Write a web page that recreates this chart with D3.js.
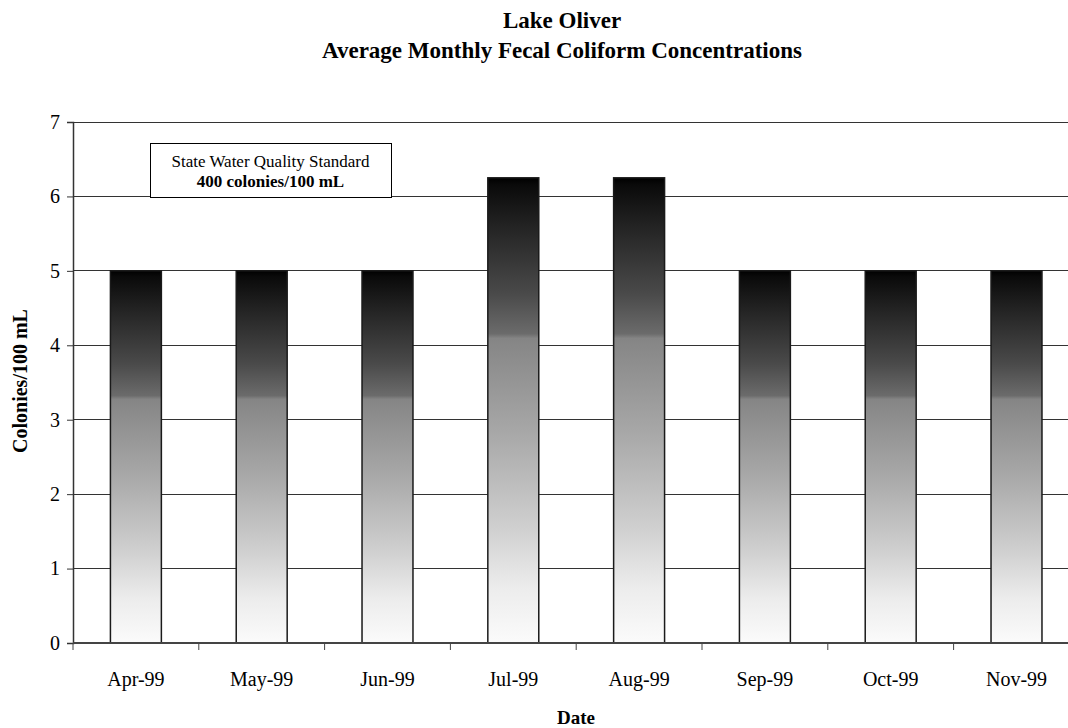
<!DOCTYPE html>
<html><head><meta charset="utf-8">
<script src="https://cdn.jsdelivr.net/npm/d3@7"></script>
<style>
body{margin:0;background:#fff;}
</style></head>
<body><svg id="c" width="1068" height="728"></svg>
<script>
const categories = ["Apr-99","May-99","Jun-99","Jul-99","Aug-99","Sep-99","Oct-99","Nov-99"];
const values = [5,5,5,6.25,6.25,5,5,5];
const yTicks = [0,1,2,3,4,5,6,7];
const titleLines = ["Lake Oliver","Average Monthly Fecal Coliform Concentrations"];
const legendLines = ["State Water Quality Standard","400 colonies/100 mL"];

const FONT = "'Liberation Serif','Times New Roman',Times,serif";
const svg = d3.select("#c").attr("font-family", FONT);
const mLeft = 73, mTop = 122, mBottom = 643, step = 125.8;
const x = d3.scaleBand().domain(categories).range([mLeft, mLeft + step*categories.length]).paddingInner(0.595).paddingOuter(0.2975);
const xb = d3.scaleBand().domain(categories).range([mLeft, mLeft + step*categories.length]).padding(0);
const y = d3.scaleLinear().domain([0,7]).range([mBottom, mTop]);

const defs = svg.append("defs");
const g = defs.append("linearGradient").attr("id","grad").attr("x1",0).attr("y1",0).attr("x2",0).attr("y2",1);
[[0,"#000"],[0.015,"#0a0a0a"],[0.1,"#222"],[0.25,"#4a4a4a"],[0.335,"#6b6b6b"],[0.345,"#858585"],[0.55,"#a8a8a8"],[0.75,"#cfcfcf"],[0.88,"#ececec"],[1,"#fbfbfb"]]
 .forEach(([o,c])=>g.append("stop").attr("offset",o).attr("stop-color",c));

// gridlines
svg.append("g").selectAll("line").data(yTicks.filter(d=>d>0)).join("line")
  .attr("x1",mLeft).attr("x2",1068).attr("y1",d=>y(d)).attr("y2",d=>y(d))
  .attr("stroke","#333").attr("stroke-width",1).attr("shape-rendering","crispEdges");

// bars
svg.append("g").selectAll("rect").data(values).join("rect")
  .attr("x",(d,i)=>x(categories[i])).attr("width",x.bandwidth())
  .attr("y",d=>y(d)).attr("height",d=>y(0)-y(d))
  .attr("fill","url(#grad)").attr("stroke","#1a1a1a").attr("stroke-width",1.5);

// y axis
const ya = svg.append("g").attr("transform",`translate(${mLeft},0)`)
  .call(d3.axisLeft(y).tickValues(yTicks).tickSize(6).tickPadding(7).tickFormat(d3.format("d")));
ya.attr("font-family", FONT).attr("font-size", 20);
ya.select(".domain").attr("stroke","#333").attr("stroke-width",1.5);
ya.selectAll(".tick line").attr("stroke","#333");
ya.selectAll("text").attr("fill","#000");

// x axis
const xa = svg.append("g").attr("transform",`translate(0,${mBottom})`);
xa.append("line").attr("x1",mLeft).attr("x2",1068).attr("y1",0).attr("y2",0).attr("stroke","#444").attr("stroke-width",2);
xa.selectAll("line.t").data(categories).join("line").attr("class","t")
  .attr("x1",d=>xb(d)).attr("x2",d=>xb(d)).attr("y1",0).attr("y2",7).attr("stroke","#444");
xa.selectAll("text").data(categories).join("text")
  .attr("x",d=>xb(d)+xb.bandwidth()/2).attr("y",43).attr("text-anchor","middle")
  .attr("font-size",20).attr("fill","#000").text(d=>d);

// titles
svg.selectAll("text.title").data(titleLines).join("text").attr("class","title")
  .attr("x",562).attr("y",(d,i)=>28+i*30).attr("text-anchor","middle")
  .attr("font-size",23).attr("font-weight","bold").text(d=>d);

// axis labels
svg.append("text").attr("x",576).attr("y",724).attr("text-anchor","middle")
  .attr("font-size",19).attr("font-weight","bold").text("Date");
svg.append("text").attr("transform","translate(27,381) rotate(-90)").attr("text-anchor","middle")
  .attr("font-size",20).attr("font-weight","bold").text("Colonies/100 mL");

// legend box
svg.append("rect").attr("x",150.5).attr("y",143.5).attr("width",241).attr("height",54)
  .attr("fill","#fff").attr("stroke","#000").attr("stroke-width",1);
svg.selectAll("text.leg").data(legendLines).join("text").attr("class","leg")
  .attr("x",270.5).attr("y",(d,i)=>167+i*20).attr("text-anchor","middle")
  .attr("font-size",17).attr("font-weight",(d,i)=>i?"bold":"normal").text(d=>d);
</script></body></html>
